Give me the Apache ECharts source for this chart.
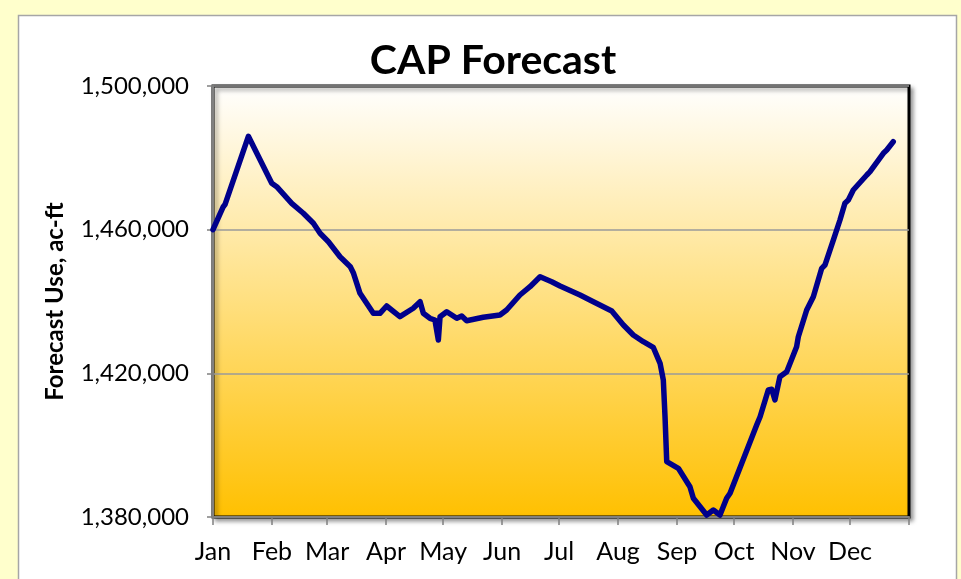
<html>
<head>
    <meta charset="utf-8">
    <script src="https://cdn.jsdelivr.net/npm/echarts@6/dist/echarts.min.js"></script>
</head>
<body style="height: 100%; margin: 0; background: #FFFFCC">
    <div id="container" style="width: 961px; height: 579px"></div>
    <script>
        // day of year (leap year, 0 = Jan 1) and forecast use in ac-ft
        var dayOfYear = [0, 1, 5.4, 6.3, 18.6, 30.9, 33.5, 41.4, 47.5, 52.8, 56.3, 60.7, 66.8, 72.2, 73.9, 77.3,
            84.3, 87.8, 91.3, 98.3, 105.3, 108.9, 110.6, 114.1, 116.7, 118.5, 119.4, 122.9, 128.2, 130.8, 133.4,
            142.1, 150.9, 154.4, 161.4, 166.7, 172, 178.1, 182.5, 193, 200, 209.7, 215.8, 221, 226.3, 231.5,
            235.1, 236.8, 237.7, 238.6, 244.7, 250.8, 252.6, 259.6, 263.1, 266.6, 270.1, 271.9, 285.9, 287.7,
            292, 293.8, 295.5, 298.1, 301.7, 306.9, 307.8, 312.2, 315.7, 320.1, 321.8, 326.2, 329.7, 332.3,
            334.1, 336.7, 343.8, 345.5, 352.5, 354.3, 357.7];
        var forecastUse = [1460000, 1460400, 1466400, 1467000, 1486000, 1472900, 1471960, 1467340, 1464560, 1461770,
            1458990, 1456650, 1452470, 1449690, 1447850, 1442280,
            1436720, 1436720, 1438750, 1435770, 1438110, 1439940, 1436720, 1435320, 1434850, 1429280, 1435770,
            1437160, 1435320, 1435960, 1434650,
            1435600, 1436240, 1437630, 1441810, 1444120, 1446900, 1445510, 1444320, 1441810, 1439940, 1437360,
            1433460, 1430670, 1428810, 1427250,
            1422790, 1418150, 1407930, 1395400, 1393560, 1388440, 1385210, 1380560, 1381950, 1380560, 1385210,
            1386600, 1405620, 1407930,
            1415360, 1415550, 1412580, 1419060, 1420450, 1427420, 1430200, 1437630, 1441340, 1449240, 1450160,
            1457120, 1462690, 1467340,
            1468260, 1471040, 1475220, 1476140, 1481260, 1482180, 1484490];

        var monthNames = ['Jan', 'Feb', 'Mar', 'Apr', 'May', 'Jun', 'Jul', 'Aug', 'Sep', 'Oct', 'Nov', 'Dec'];
        var monthStarts = [0, 31, 60, 91, 121, 152, 182, 213, 244, 274, 305, 335, 366];

        var seriesData = dayOfYear.map(function (d, i) {
            return [d, forecastUse[i]];
        });

        var myChart = echarts.init(document.getElementById('container'));
        var option = {
            backgroundColor: '#FFFFCC',
            animation: false,
            graphic: [{
                type: 'rect',
                z: -10,
                shape: { x: 18.5, y: 15.5, width: 938, height: 600 },
                style: { fill: '#fff', stroke: '#a6a6a6', lineWidth: 1.5 }
            }],
            title: {
                text: 'CAP Forecast',
                left: 488,
                top: 35,
                textAlign: 'center',
                textStyle: {
                    fontFamily: 'Lato',
                    fontWeight: 'bold',
                    fontSize: 41,
                    color: '#000'
                }
            },
            grid: {
                left: 213,
                top: 86,
                right: 52,
                bottom: 62,
                show: true,
                borderColor: '#000',
                borderWidth: 3,
                backgroundColor: new echarts.graphic.LinearGradient(0, 0, 0, 1, [
                    { offset: 0, color: '#FFFFFF' },
                    { offset: 1, color: '#FFC000' }
                ]),
                shadowColor: 'rgba(0,0,0,0.35)',
                shadowBlur: 4,
                shadowOffsetX: 3,
                shadowOffsetY: 3
            },
            xAxis: {
                type: 'value',
                min: 0,
                max: 366,
                axisLine: { show: true, lineStyle: { color: '#808080', width: 2 } },
                axisTick: {
                    show: true,
                    customValues: monthStarts,
                    length: 8,
                    lineStyle: { color: '#808080', width: 1.5 }
                },
                axisLabel: {
                    customValues: monthStarts.slice(0, 12),
                    formatter: function (v) {
                        return monthNames[monthStarts.indexOf(v)] || '';
                    },
                    margin: 22,
                    fontFamily: 'Lato',
                    fontSize: 25,
                    color: '#000'
                },
                splitLine: { show: false }
            },
            yAxis: {
                type: 'value',
                min: 1380000,
                max: 1500000,
                interval: 40000,
                name: 'Forecast Use, ac-ft',
                nameLocation: 'middle',
                nameRotate: 90,
                nameGap: 146,
                nameTextStyle: {
                    fontFamily: 'Lato',
                    fontWeight: 'bold',
                    fontSize: 24,
                    color: '#000'
                },
                axisLine: { show: true, lineStyle: { color: '#808080', width: 2 } },
                axisTick: { show: true, length: 6, lineStyle: { color: '#808080', width: 1.5 } },
                axisLabel: {
                    formatter: function (v) {
                        return v.toLocaleString('en-US');
                    },
                    margin: 24,
                    fontFamily: 'Lato',
                    fontSize: 24,
                    color: '#000'
                },
                splitLine: { show: true, lineStyle: { color: '#9a9a9a', width: 1.5 } }
            },
            series: [{
                type: 'line',
                data: seriesData,
                showSymbol: false,
                smooth: false,
                lineStyle: {
                    color: '#00008B',
                    width: 5.5,
                    cap: 'round',
                    join: 'round'
                }
            }]
        };
        myChart.setOption(option);
    </script>
</body>
</html>
